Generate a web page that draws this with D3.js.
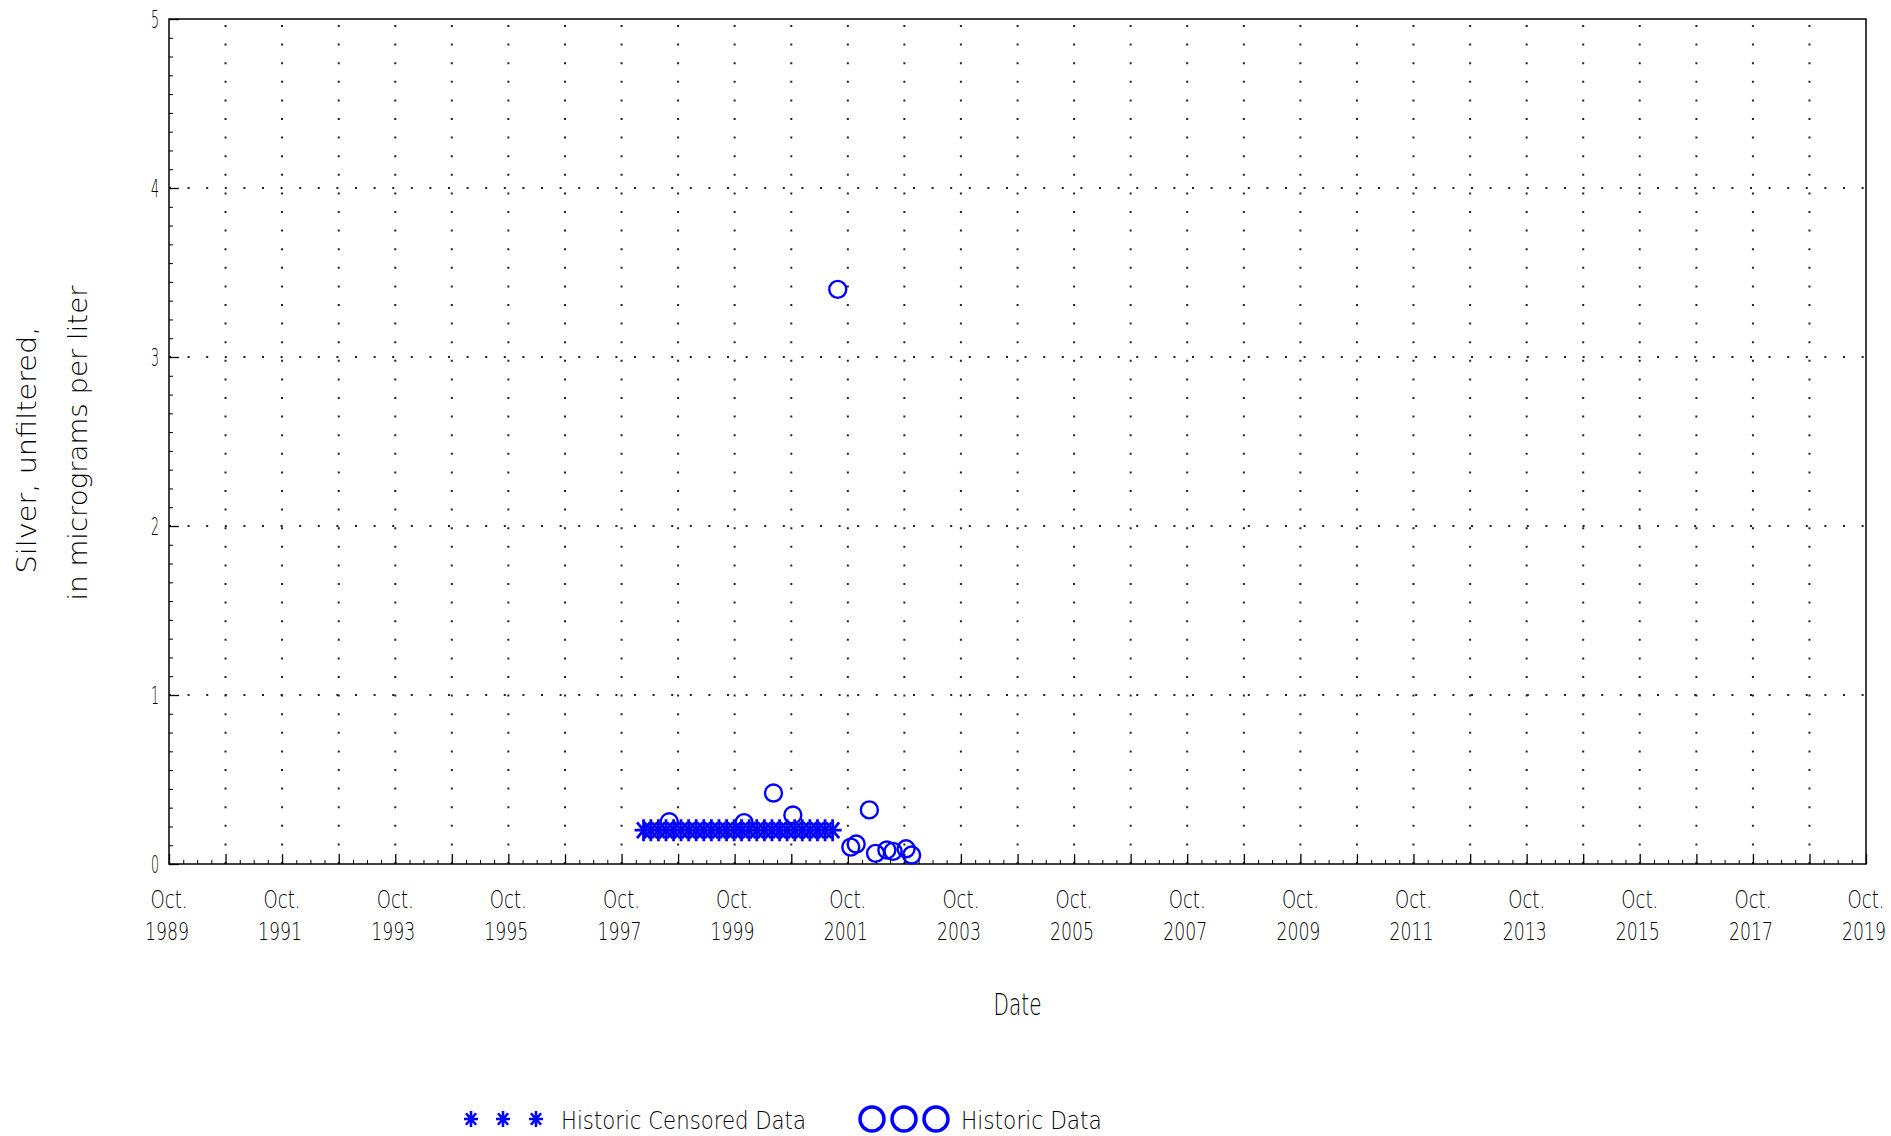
<!DOCTYPE html>
<html>
<head>
<meta charset="utf-8">
<script src="https://cdn.jsdelivr.net/npm/d3@7"></script>
<style>
  html, body { margin: 0; padding: 0; background: #fff; }
  svg text { font-family: "DejaVu Sans", "Liberation Sans", sans-serif; font-weight: 200; fill: #000; }
</style>
</head>
<body>
<svg id="chart" width="1891" height="1136"></svg>
<script>
// ---------------- data ----------------
const censoredDates = [
  "1998-02-20","1998-04-08","1998-05-27","1998-07-15","1998-09-02","1998-10-20",
  "1998-12-08","1999-01-26","1999-03-16","1999-05-04","1999-06-22","1999-08-10",
  "1999-09-28","1999-11-15","2000-01-03","2000-02-21","2000-04-10","2000-05-29",
  "2000-07-17","2000-09-04","2000-10-23","2000-12-11","2001-01-29","2001-03-19",
  "2001-05-07","2001-06-25"
];
const censoredValues = [
  0.2,0.2,0.2,0.2,0.2,0.2,0.2,0.2,0.2,0.2,0.2,0.2,0.2,
  0.2,0.2,0.2,0.2,0.2,0.2,0.2,0.2,0.2,0.2,0.2,0.2,0.2
];
const historicDates = [
  "1998-08-05","1999-12-01","2000-06-08","2000-10-11","2001-07-28","2001-10-20",
  "2001-11-24","2002-02-17","2002-03-29","2002-06-10","2002-07-20","2002-10-12","2002-11-17"
];
const historicValues = [0.25,0.245,0.42,0.29,3.40,0.10,0.118,0.32,0.063,0.083,0.075,0.09,0.053];

const yTicks = [0,1,2,3,4,5];
const xLabelYears = [1989,1991,1993,1995,1997,1999,2001,2003,2005,2007,2009,2011,2013,2015,2017,2019];
const xLabelMonth = "Oct.";
const yTitle1 = "Silver, unfiltered,";
const yTitle2 = "in micrograms per liter";
const xTitle = "Date";
const legendLabels = ["Historic Censored Data", "Historic Data"];

// ---------------- layout ----------------
const L = 169, R = 1866, T = 19, B = 864;
const parse = d3.timeParse("%Y-%m-%d");
const x = d3.scaleTime().domain([new Date(1989,9,1), new Date(2019,9,1)]).range([L, R]);
const y = d3.scaleLinear().domain([0,5]).range([B, T]);
const blue = "#0000ff";

const svg = d3.select("#chart");

function fitText(parent, str, px, py, width, size, anchor, rot) {
  const t = parent.append("text").attr("font-size", size).attr("text-anchor", anchor || "start").text(str);
  const nat = t.node().getComputedTextLength();
  const sx = width / nat;
  t.attr("transform", `translate(${px},${py})` + (rot ? ` rotate(${rot})` : "") + ` scale(${sx},1)`);
  return t;
}

// grid
const yearTicks = d3.range(1990, 2019).map(yr => new Date(yr, 9, 1));
const grid = svg.append("g").attr("stroke", "#222").attr("stroke-width", 2).attr("stroke-dasharray", "2 16.6");
grid.selectAll("line.v").data(yearTicks).join("line")
  .attr("x1", d => x(d)).attr("x2", d => x(d)).attr("y1", B).attr("y2", T);
grid.selectAll("line.h").data(yTicks.filter(v => v > 0 && v < 5)).join("line")
  .attr("x1", L).attr("x2", R).attr("y1", d => y(d)).attr("y2", d => y(d));

// axes
const allYears = d3.range(1989, 2020).map(yr => new Date(yr, 9, 1));
const gx = svg.append("g").attr("transform", `translate(0,${B})`)
  .call(d3.axisTop(x).tickValues(allYears).tickSize(10).tickFormat(""));
gx.select(".domain").remove();
gx.selectAll(".tick line").attr("stroke", "#000").attr("stroke-width", 1.3);

const minorX = [];
for (let yr = 1989; yr < 2019; yr++) for (let m of [0,3,6]) minorX.push(new Date(yr + 1, m, 1));
const gxm = svg.append("g").attr("transform", `translate(0,${B})`)
  .call(d3.axisTop(x).tickValues(minorX).tickSize(4).tickFormat(""));
gxm.select(".domain").remove();
gxm.selectAll(".tick line").attr("stroke", "#000").attr("stroke-width", 1);

const gy = svg.append("g").attr("transform", `translate(${L},0)`)
  .call(d3.axisRight(y).tickValues(yTicks).tickSize(10).tickFormat(""));
gy.select(".domain").remove();
gy.selectAll(".tick line").attr("stroke", "#000").attr("stroke-width", 1.3);

const minorY = [];
for (let i = 0; i < 5; i++) for (let k = 1; k < 9; k++) minorY.push(i + k / 9);
const gym = svg.append("g").attr("transform", `translate(${L},0)`)
  .call(d3.axisRight(y).tickValues(minorY).tickSize(4).tickFormat(""));
gym.select(".domain").remove();
gym.selectAll(".tick line").attr("stroke", "#000").attr("stroke-width", 1);

// frame
svg.append("rect").attr("x", L).attr("y", T).attr("width", R - L).attr("height", B - T)
  .attr("fill", "none").attr("stroke", "#000").attr("stroke-width", 1.5);

// y tick labels
const gyl = svg.append("g");
yTicks.forEach(v => fitText(gyl, String(v), 159, y(v) + 8.5, 8, 24, "end"));

// x tick labels
const gxl = svg.append("g");
xLabelYears.forEach(yr => {
  const px = x(new Date(yr, 9, 1));
  fitText(gxl, xLabelMonth, px, 908, 37, 24, "middle");
  fitText(gxl, String(yr), px - 2, 940, 44, 24, "middle");
});

// axis titles
fitText(svg, xTitle, (L + R) / 2, 1015, 48, 31, "middle");
fitText(svg, yTitle1, 36, 450, 247, 26, "middle", -90);
fitText(svg, yTitle2, 87, 443, 315, 26, "middle", -90);

// markers
function starPath(rx, ry) {
  const dx = rx * 0.72, dy = ry * 0.72;
  return `M${-rx},0L${rx},0M0,${-ry}L0,${ry}M${-dx},${-dy}L${dx},${dy}M${-dx},${dy}L${dx},${-dy}`;
}
const censored = censoredDates.map((d, i) => ({ date: parse(d), value: censoredValues[i] }));
const historic = historicDates.map((d, i) => ({ date: parse(d), value: historicValues[i] }));

svg.append("g").selectAll("path").data(censored).join("path")
  .attr("transform", d => `translate(${x(d.date)},${y(d.value)})`)
  .attr("d", starPath(9, 11))
  .attr("fill", "none").attr("stroke", blue).attr("stroke-width", 2.8);

svg.append("g").selectAll("circle").data(historic).join("circle")
  .attr("cx", d => x(d.date)).attr("cy", d => y(d.value)).attr("r", 8.5)
  .attr("fill", "none").attr("stroke", blue).attr("stroke-width", 2.4);

// legend
const lg = svg.append("g");
lg.selectAll("path").data([471, 503, 536]).join("path")
  .attr("transform", d => `translate(${d},1119)`)
  .attr("d", starPath(7, 8)).attr("fill", "none").attr("stroke", blue).attr("stroke-width", 2.6);
fitText(lg, legendLabels[0], 561, 1129, 245, 24, "start");
lg.selectAll("circle").data([872, 904, 936]).join("circle")
  .attr("cx", d => d).attr("cy", 1119).attr("r", 12)
  .attr("fill", "none").attr("stroke", blue).attr("stroke-width", 3.5);
fitText(lg, legendLabels[1], 961, 1129, 141, 24, "start");
</script>
</body>
</html>
